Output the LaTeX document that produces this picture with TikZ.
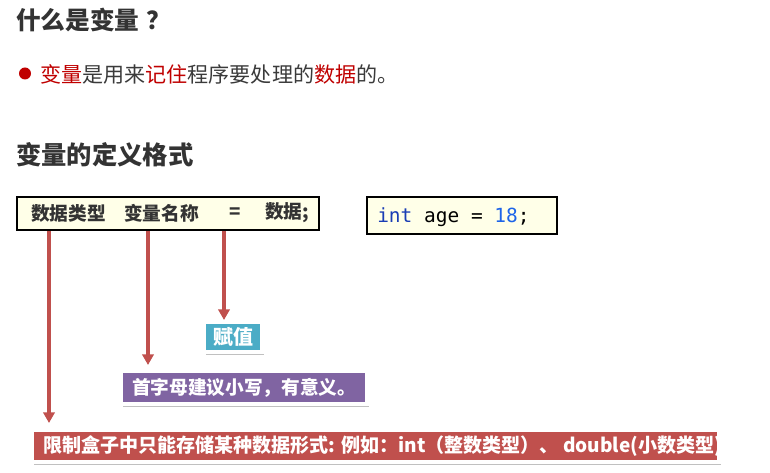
\documentclass[tikz,border=0pt]{standalone}
\usepackage{fontspec}
\setmainfont{Noto Sans CJK SC}
\newfontfamily\codefont{DejaVu Sans Mono}
\usetikzlibrary{arrows.meta,shadows,calc}

\definecolor{ink}{HTML}{333333}
\definecolor{bodyink}{HTML}{3A3A3A}
\definecolor{accent}{HTML}{C00000}
\definecolor{paper}{HTML}{FFFFE8}
\definecolor{pointerred}{HTML}{C0504D}
\definecolor{tealbox}{HTML}{4BACC6}
\definecolor{purplebox}{HTML}{8064A2}
\definecolor{keyword}{HTML}{1A3DB5}
\definecolor{number}{HTML}{1D64E8}

\begin{document}
\begin{tikzpicture}[x=0.75pt,y=-0.75pt,
  heading/.style={anchor=west, inner sep=0, text=ink,
    font=\fontsize{18.5pt}{21pt}\selectfont\bfseries},
  formbox/.style={draw=black, line width=1pt, fill=paper, inner sep=0},
  formtext/.style={anchor=west, inner sep=0, text=ink,
    font=\fontsize{14pt}{16pt}\selectfont\bfseries},
  callout/.style={draw=white, line width=3pt, text=white, inner sep=0,
    drop shadow={shadow xshift=1.2pt, shadow yshift=-2.2pt, fill=black!70, opacity=0.35},
    font=\fontsize{14pt}{16pt}\selectfont\bfseries},
  pointer/.style={draw=pointerred, line width=2.4pt,
    -{Triangle[width=8.5pt,length=8pt]}}
]
\useasboundingbox (0,0) rectangle (770,473);
\fill[white] (0,0) rectangle (770,473);

% headings and the bullet sentence
\node[heading] (title) at (16,20) {什么是变量\hspace{5pt}？};
\node[circle, fill=accent, minimum size=9pt, inner sep=0] (dot) at (25,73.5) {};
\node[anchor=west, inner sep=0, text=bodyink,
  font=\fontsize{15.8pt}{18pt}\selectfont] (sentence) at (40,74)
  {\textcolor{accent}{变量}是用来\textcolor{accent}{记住}程序要处理的\textcolor{accent}{数据}的。};
\node[heading, font=\fontsize{19pt}{21pt}\selectfont\bfseries] (defhead) at (16,155) {变量的定义格式};

% connectors sit under the boxes
\coordinate (s1) at (49,231);
\coordinate (s2) at (148,231);
\coordinate (s3) at (224,231);

% callout boxes
\node[callout, fill=tealbox, minimum width={58*0.75pt}, minimum height={30*0.75pt},
  font=\fontsize{15pt}{17pt}\selectfont\bfseries] (assign) at (233,337) {赋值};
\node[callout, fill=purplebox, minimum width={246*0.75pt}, minimum height={33*0.75pt}]
  (naming) at (244,387.5) {首字母建议小写，有意义。};
\node[callout, fill=pointerred, minimum width={687*0.75pt}, minimum height={32*0.75pt}]
  (typebox) at (375.5,446) {};
\node[anchor=west, inner sep=0, text=white, font=\fontsize{14.5pt}{16pt}\selectfont\bfseries]
  (typetext) at (43,446)
  {\resizebox{509pt}{\height}{限制盒子中只能存储某种数据形式: 例如：int（整数类型）、 double(小数类型)}};

\draw[pointer, shorten >=3.75pt] (s1) -- (s1 |- typebox.north);
\draw[pointer, shorten >=3pt] (s2) -- (s2 |- naming.north);
\draw[pointer] (s3) -- (s3 |- assign.north);

% format box
\node[formbox, minimum width={302*0.75pt}, minimum height={33*0.75pt}] (form) at (168,213.5) {};
\node[formtext] (ftype) at (31,213) {数据类型};
\node[formtext] (fname) at (124,213) {变量名称};
\node[formtext] (feq) at (229,213) {=};
\node[formtext] (fval) at (265,213) {数据;};

% example box
\node[formbox, minimum width={190*0.75pt}, minimum height={37*0.75pt}] (example) at (462,215.5) {};
\node[anchor=west, inner sep=0, font=\codefont\fontsize{14.6pt}{17pt}\selectfont]
  (code) at (377,217)
  {\textcolor{keyword}{int} age = \textcolor{number}{18};};
\end{tikzpicture}
\end{document}
